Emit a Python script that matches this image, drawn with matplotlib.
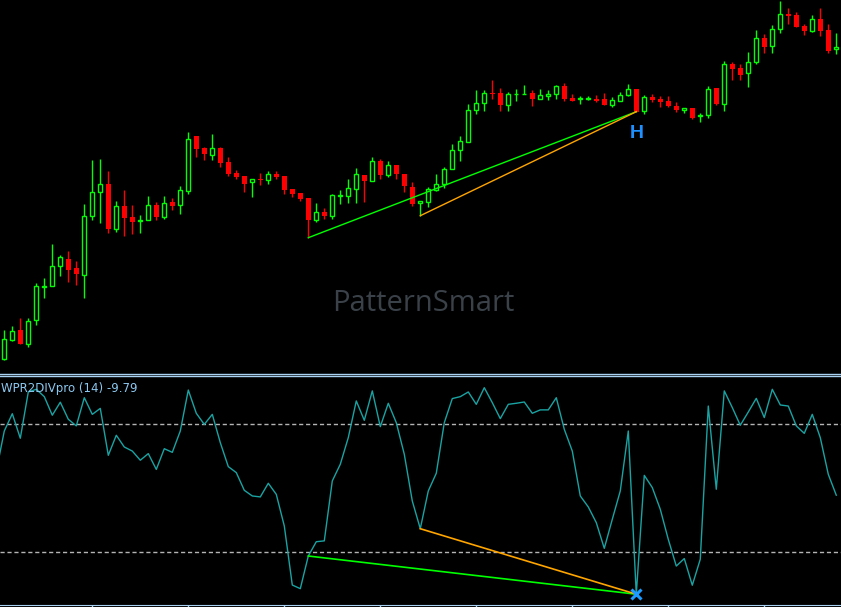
import numpy as np
import matplotlib.pyplot as plt
from matplotlib.lines import Line2D

plt.rcParams['lines.scale_dashes'] = False

# candles (screen units: smaller value = higher price)
opens = [358.7, 339.7, 330.0, 344.3, 320.3, 286.7, 286.3, 266.3, 259.3, 268.3,
         275.3, 216.3, 192.3, 184.0, 228.7, 206.0, 217.0, 220.3, 220.3, 205.0,
         216.7, 202.0, 205.3, 190.7, 136.0, 148.0, 154.7, 148.0, 162.0, 173.0,
         176.0, 182.3, 179.3, 179.7, 174.0, 176.0, 189.3, 193.0, 198.0, 219.7,
         212.0, 215.7, 196.0, 195.7, 188.7, 175.3, 180.7, 161.3, 174.7, 165.3,
         173.7, 187.0, 203.3, 201.7, 189.5, 184.3, 169.3, 150.3, 142.3, 110.3,
         103.3, 93.3, 93.3, 104.7, 94.3, 94.3, 93.3, 99.3, 95.7, 94.3,
         86.0, 98.0, 98.7, 98.3, 99.0, 99.0, 104.7, 101.3, 95.3, 89.0,
         111.3, 97.0, 99.0, 101.3, 106.0, 109.7, 108.0, 116.3, 115.3, 88.0,
         104.3, 64.3, 68.3, 73.3, 62.3, 38.3, 46.3, 29.3, 14.0, 15.0,
         26.3, 30.7, 19.3, 30.0, 49.3]
highs = [330.0, 326.0, 318.0, 318.0, 283.3, 278.0, 244.0, 255.0, 251.0, 261.0,
         204.0, 160.0, 159.0, 171.0, 201.0, 190.0, 205.0, 215.0, 196.0, 202.0,
         196.0, 198.0, 186.0, 132.0, 136.0, 147.3, 134.0, 147.3, 157.0, 170.0,
         176.0, 179.3, 173.3, 171.0, 171.0, 176.0, 189.3, 193.0, 198.0, 203.0,
         208.3, 194.3, 190.3, 179.3, 168.3, 175.3, 157.3, 159.3, 161.3, 165.3,
         173.7, 182.0, 201.0, 187.0, 174.0, 167.3, 144.0, 136.0, 104.0, 90.0,
         90.0, 80.0, 88.0, 92.3, 89.0, 85.0, 90.0, 89.0, 89.7, 85.0,
         83.3, 94.0, 96.0, 96.0, 95.3, 93.3, 97.3, 92.0, 84.0, 89.0,
         95.0, 94.0, 96.0, 96.0, 102.0, 108.0, 108.0, 113.3, 86.0, 88.0,
         61.0, 62.0, 64.0, 52.0, 30.0, 34.0, 25.3, 1.3, 8.0, 12.3,
         24.0, 15.0, 8.0, 24.0, 33.0]
lows = [359.5, 340.7, 343.7, 346.7, 324.7, 297.7, 286.3, 275.7, 281.7, 284.7,
        297.7, 219.7, 222.7, 232.7, 231.7, 235.7, 233.7, 232.7, 220.3, 219.7,
        218.7, 209.7, 213.7, 193.7, 156.7, 159.7, 159.7, 166.7, 175.7, 179.3,
        191.7, 196.7, 185.0, 183.7, 179.0, 193.7, 197.0, 201.0, 237.7, 222.0,
        219.3, 219.0, 203.7, 202.7, 202.7, 201.7, 180.7, 179.0, 176.7, 178.7,
        191.7, 205.7, 215.7, 206.7, 190.5, 188.3, 169.3, 160.7, 142.3, 114.3,
        110.7, 99.3, 110.7, 110.7, 100.7, 94.3, 105.7, 99.3, 100.0, 98.7,
        100.7, 100.7, 103.7, 100.0, 101.7, 104.7, 106.7, 101.3, 96.3, 111.7,
        113.7, 102.0, 106.7, 107.0, 112.0, 112.7, 119.0, 121.7, 117.7, 105.0,
        110.7, 79.7, 79.7, 86.7, 63.7, 53.0, 52.7, 32.7, 23.7, 26.7,
        34.7, 31.7, 35.7, 53.3, 53.7]
closes = [339.3, 331.3, 343.7, 321.3, 286.3, 286.0, 266.3, 257.3, 269.7, 273.7,
          216.3, 192.3, 184.3, 228.7, 206.3, 217.7, 221.7, 220.0, 205.3, 217.0,
          203.3, 206.0, 190.3, 139.3, 148.7, 153.7, 148.3, 163.0, 174.0, 177.0,
          183.7, 179.3, 180.0, 174.0, 177.0, 189.7, 193.7, 199.0, 219.7, 212.0,
          216.0, 195.3, 195.3, 188.3, 174.3, 181.0, 161.3, 174.7, 165.3, 173.7,
          185.7, 203.7, 201.0, 189.3, 184.3, 169.3, 150.3, 141.3, 110.3, 103.3,
          93.3, 93.8, 104.7, 94.3, 93.5, 93.5, 98.7, 95.3, 94.3, 86.0,
          98.7, 100.7, 98.0, 98.0, 100.7, 104.7, 100.3, 95.3, 89.0, 111.7,
          97.3, 100.0, 101.7, 106.0, 110.0, 108.0, 117.7, 115.3, 89.3, 103.7,
          64.3, 68.7, 74.7, 62.0, 38.3, 46.7, 29.3, 14.3, 15.7, 26.7,
          30.7, 19.3, 30.7, 50.7, 47.3]

# WPR(14) values, first one belongs to the bar just left of the window
wpr_first_bar = -1
wpr = [-42.0,
       -23.3, -15.2, -26.7, -5.0, -3.75, -7.2, -15.9, -9.8, -17.8, -20.9,
       -7.7, -15.5, -12.7, -34.7, -25.3, -30.8, -32.7, -37.0, -33.9, -41.3,
       -31.6, -33.3, -23.3, -4.1, -15.0, -20.2, -15.5, -28.75, -40.0, -42.8,
       -51.1, -53.75, -54.2, -47.8, -53.0, -67.8, -95.5, -97.2, -81.9, -75.2,
       -74.8, -46.7, -38.9, -26.4, -9.2, -18.3, -4.5, -21.25, -10.3, -19.4,
       -34.2, -56.1, -69.1, -51.4, -43.1, -19.4, -8.1, -7.2, -5.0, -10.8,
       -3.0, -10.0, -17.5, -10.8, -10.3, -9.7, -15.0, -13.4, -13.4, -7.7,
       -22.5, -32.7, -53.75, -58.9, -66.25, -78.3, -64.7, -51.4, -23.3, -99.8,
       -44.1, -49.8, -60.0, -74.1, -86.6, -83.1, -95.6, -83.4, -11.6, -50.6,
       -4.5, -12.3, -20.6, -14.4, -8.0, -17.0, -3.75, -11.1, -11.6, -20.9,
       -24.4, -15.5, -26.4, -43.6, -53.4]

levels = [-20, -80]
div_regular_from = 38
div_hidden_from = 52
div_to = 79
indicator_label = 'WPR2DIVpro (14) -9.79'
watermark = 'PatternSmart'
pattern_mark = 'H'
time_ticks = [11, 23, 35, 47, 59, 71, 83, 95]

opens = np.array(opens)
closes = np.array(closes)
highs = np.array(highs)
lows = np.array(lows)
x = np.arange(len(opens))
xw = np.arange(len(wpr)) + wpr_first_bar
bull = closes <= opens

W, H = 841, 607
fig = plt.figure(figsize=(W / 100, H / 100), dpi=100, facecolor='black')
ax = fig.add_axes([0, (H - 372) / H, 1, 372 / H], facecolor='black')
ax2 = fig.add_axes([0, 2 / H, 1, 229 / H], facecolor='black')

xmin, xmax = -0.5375, 104.59
for a in (ax, ax2):
    a.set_xlim(xmin, xmax)
    for s in a.spines.values():
        s.set_visible(False)
    a.set_yticks([])
ax.set_xticks([])
ax.set_ylim(372, 0)

# candles
wick_col = np.where(bull, '#00FF00', '#FF0000')
ax.vlines(x, highs, lows, colors=wick_col, lw=1.0)
body_lo = np.minimum(opens, closes)
body_h = np.abs(opens - closes)
ax.bar(x[bull], np.maximum(body_h[bull], 0.5), bottom=body_lo[bull], width=0.5,
       color='black', edgecolor='#00FF00', linewidth=1.0, zorder=3)
ax.bar(x[~bull], np.maximum(body_h[~bull], 1.0), bottom=body_lo[~bull], width=0.6,
       color='#FF0000', linewidth=0, zorder=3)

# divergence lines on price
ax.plot([div_regular_from, div_to], [lows[div_regular_from], lows[div_to]],
        color='#00FF00', lw=1, zorder=4)
ax.plot([div_hidden_from, div_to], [lows[div_hidden_from], lows[div_to]],
        color='#FFA500', lw=1, zorder=4)
ax.annotate(pattern_mark, (div_to, lows[div_to]), xytext=(0, -16), textcoords='offset points',
            ha='center', va='center', color='#1E90FF', fontsize=14, fontweight='bold',
            family='Liberation Sans')

ax.text(0.503, 0.185, watermark, transform=ax.transAxes, ha='center', va='center',
        color='#3A4148', fontsize=21, family='Open Sans', zorder=0)

# oscillator
ax2.set_ylim(-104.86, 2.48)
for lv in levels:
    ax2.axhline(lv, color='#B4B4B4', lw=1, dashes=(3, 2))
ax2.plot(xw, wpr, color='#1AA3A3', lw=1)
ax2.plot([div_regular_from, div_to], [wpr[div_regular_from - wpr_first_bar], wpr[div_to - wpr_first_bar]],
         color='#00FF00', lw=1.2)
ax2.plot([div_hidden_from, div_to], [wpr[div_hidden_from - wpr_first_bar], wpr[div_to - wpr_first_bar]],
         color='#FFA500', lw=1.2)
ax2.plot([div_to], [wpr[div_to - wpr_first_bar]], marker='x', ms=7, mew=2.2,
         color='#1E9BFF', zorder=5)
ax2.text(0.001, 0.975, indicator_label, transform=ax2.transAxes, ha='left', va='top',
         color='#8CC8F0', fontsize=8.5, family='DejaVu Sans')

ax2.spines['bottom'].set_visible(True)
ax2.spines['bottom'].set_color('#A8D0F0')
ax2.set_xticks(time_ticks)
ax2.set_xticklabels([])
ax2.tick_params(axis='x', direction='out', length=2, color='#A8D0F0', width=1)

# window separator
for yy in (373.5, 375.5):
    fig.add_artist(Line2D([0, 1], [1 - yy / H, 1 - yy / H], transform=fig.transFigure,
                          color='#A8D0F0', lw=1))

fig.savefig('out.png', dpi=100, facecolor='black')
